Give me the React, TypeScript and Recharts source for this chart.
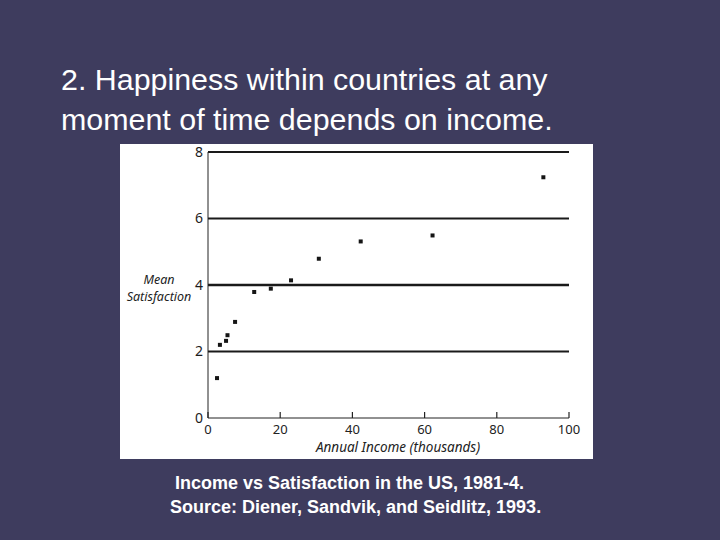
import React from 'react';
import { ScatterChart, Scatter, XAxis, YAxis, ReferenceLine } from 'recharts';

// Diener, Sandvik & Seidlitz (1993): US income vs mean satisfaction, 1981-4
const incomes = [2.5, 3.3, 5.0, 5.4, 7.5, 12.8, 17.4, 23.0, 30.7, 42.3, 62.2, 92.9];
const satisfaction = [1.2, 2.2, 2.32, 2.49, 2.89, 3.79, 3.89, 4.14, 4.79, 5.31, 5.49, 7.24];
const xTicks = [0, 20, 40, 60, 80, 100];
const yTicks = [0, 2, 4, 6, 8];
const gridValues = [2, 4, 6, 8];

const titleLines = ['2. Happiness within countries at any', 'moment of time depends on income.'];
const captionLines = ['Income vs Satisfaction in the US, 1981-4.', 'Source: Diener, Sandvik, and Seidlitz, 1993.'];

const points = incomes.map((income, i) => ({ income, sat: satisfaction[i] }));

const chartFont = '"Noto Sans", "Open Sans", sans-serif';

const SquareDot = ({ cx, cy }: any) => (
  <rect x={cx - 2} y={cy - 2} width={4} height={4} fill="#151515" />
);

// bottom ticks point up into the plot, labels sit under the axis
const XTick = ({ x, y, payload }: any) => (
  <g>
    <line x1={x} y1={y} x2={x} y2={y - 6} stroke="#222" strokeWidth={1.2} />
    <text x={x} y={y + 16} textAnchor="middle" fill="#222" fontSize={13} fontFamily={chartFont}>
      {payload.value}
    </text>
  </g>
);

export default function App() {
  return (
    <div style={{ position: 'absolute', left: 0, top: 0, width: 720, height: 540, background: '#3e3c5e', overflow: 'hidden' }}>
      {/* white figure panel */}
      <div style={{ position: 'absolute', left: 120, top: 144, width: 473, height: 315, background: '#fff' }} />
      <div style={{ position: 'absolute', left: 120, top: 134, width: 473, height: 325 }}>
        <ScatterChart width={473} height={325} margin={{ top: 18, right: 24, bottom: 0, left: 0 }}>
          <XAxis
            type="number"
            dataKey="income"
            domain={[0, 100]}
            ticks={xTicks}
            height={41}
            tickSize={0}
            tickMargin={0}
            tickLine={false}
            tick={<XTick />}
            axisLine={{ stroke: '#222', strokeWidth: 1 }}
          />
          <YAxis
            type="number"
            dataKey="sat"
            domain={[0, 8]}
            ticks={yTicks}
            width={88}
            tickSize={0}
            tickMargin={5}
            tickLine={false}
            tick={{ fill: '#1c1c1c', fontSize: 14, fontFamily: chartFont }}
            axisLine={{ stroke: '#222', strokeWidth: 1 }}
          />
          {gridValues.map(v => (
            <ReferenceLine key={v} y={v} stroke="#1a1a1a" strokeWidth={v === 4 ? 2.6 : 2} />
          ))}
          <Scatter data={points} shape={<SquareDot />} isAnimationActive={false} />
          <text x={39} y={150} textAnchor="middle" fontSize={12.5} fontStyle="italic" fill="#222" fontFamily={chartFont}>
            Mean
          </text>
          <text x={39} y={167} textAnchor="middle" fontSize={12.5} fontStyle="italic" fill="#222" fontFamily={chartFont}>
            Satisfaction
          </text>
          <text x={278} y={318} textAnchor="middle" fontSize={13.5} fontStyle="italic" fill="#222" fontFamily={chartFont}>
            Annual Income (thousands)
          </text>
        </ScatterChart>
      </div>
      <svg width={720} height={540} style={{ position: 'absolute', left: 0, top: 0, pointerEvents: 'none' }}>
        {titleLines.map((t, i) => (
          <text key={t} x={61} y={90 + i * 40} fill="#fff" fontSize={30.4} fontFamily='"Liberation Sans", Arial, sans-serif'>
            {t}
          </text>
        ))}
        {captionLines.map((t, i) => (
          <text key={t} x={i === 0 ? 175 : 170} y={489 + i * 24} fill="#fff" fontSize={18} fontWeight="bold" fontFamily='"Liberation Sans", Arial, sans-serif'>
            {t}
          </text>
        ))}
      </svg>
    </div>
  );
}
